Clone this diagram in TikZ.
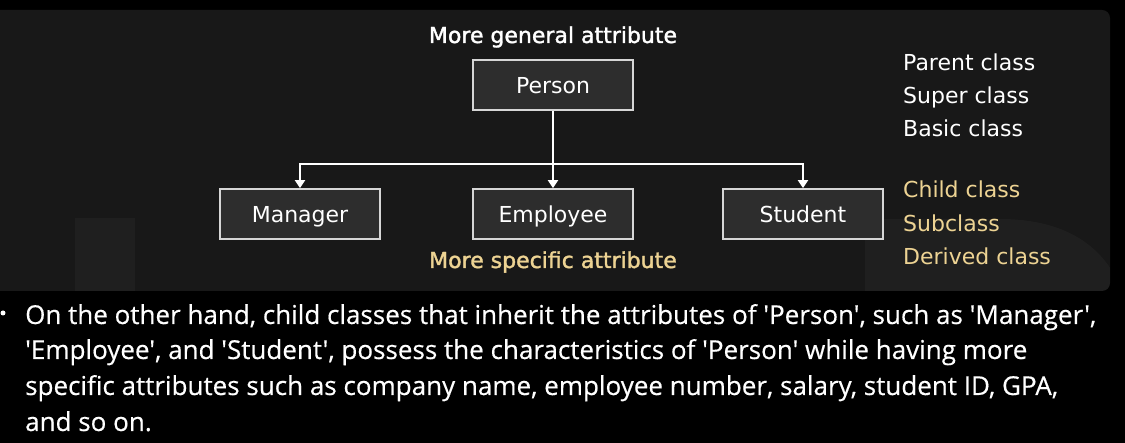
\documentclass[tikz,border=0pt]{standalone}
\usepackage{fontspec}
\setmainfont{DejaVu Sans}
\newfontfamily\headfont[FakeBold=1.6]{DejaVu Sans}
\newfontfamily\bodyfont[FakeBold=0.4]{Open Sans}
\usetikzlibrary{arrows.meta}
\definecolor{panelgrey}{HTML}{181818}
\definecolor{boxgrey}{HTML}{2D2D2D}
\definecolor{edgegrey}{HTML}{D6D6D6}
\definecolor{sand}{HTML}{EDD393}

\begin{document}
\begin{tikzpicture}[x=1pt,y=-1pt,>={Triangle[length=8pt,width=10pt]},
		cls/.style={draw=edgegrey,fill=boxgrey,line width=1.8pt,minimum width=160pt,minimum height=50pt,
			text height=18pt,text depth=0pt,text=white,font=\fontsize{22}{26}\selectfont},
		link/.style={draw=white,line width=2.7pt},
		side/.style={anchor=base west,inner sep=0pt,font=\fontsize{22}{26}\selectfont},
		head/.style={anchor=base,inner sep=0pt,font=\headfont\fontsize{22}{26}\selectfont},
		line/.style={anchor=base west,inner sep=0pt,text=white,font=\bodyfont\fontsize{26}{30}\selectfont}]
	\useasboundingbox (0,0) rectangle (1125,443);
	\fill[black] (0,0) rectangle (1125,443);
	\fill[panelgrey,rounded corners=8pt] (-10,10) rectangle (1110,291);
	% faded shapes left in the panel
	\begin{scope}
		\clip[rounded corners=8pt] (-10,10) rectangle (1110,291);
		\fill[white,opacity=.03] (75,218) rectangle (135,300);
		\fill[white,opacity=.03] (865,300) -- (865,219) -- (1000,219) .. controls (1070,219) and (1110,250) .. (1125,300) -- cycle;
	\end{scope}

	\node (gen) at (553,43) [head,text=white] {More general attribute};
	\node (P) at (553,85) [cls] {Person};
	\node (M) at (300,214) [cls] {Manager};
	\node (E) at (553,214) [cls] {Employee} edge [link,<-] (P);
	\node (S) at (803,214) [cls] {Student};
	\node (spec) at (553,268) [head,text=sand] {More specific attribute};
	\coordinate (fork) at (553,164);
	\draw[link,->] (fork) -| (M);
	\draw[link,->] (fork) -| (S);

	% names of the two levels
	\node (par) at (903,71) [side,text=white] {Parent class};
	\node (sup) at (903,104) [side,text=white] {Super class};
	\node (bas) at (903,137) [side,text=white] {Basic class};
	\node (chi) at (903,198) [side,text=sand] {Child class};
	\node (sub) at (903,232) [side,text=sand] {Subclass};
	\node (der) at (903,265) [side,text=sand] {Derived class};

	% bullet text below
	\node (dot) at (3,313) [circle,fill=white,inner sep=0pt,minimum size=5pt] {};
	\node (l1) at (25,324) [line] {On the other hand, child classes that inherit the attributes of 'Person', such as 'Manager',};
	\node (l2) at (25,359) [line] {'Employee', and 'Student', possess the characteristics of 'Person' while having more};
	\node (l3) at (25,395) [line] {specific attributes such as company name, employee number, salary, student ID, GPA,};
	\node (l4) at (25,431) [line] {and so on.};
\end{tikzpicture}
\end{document}
